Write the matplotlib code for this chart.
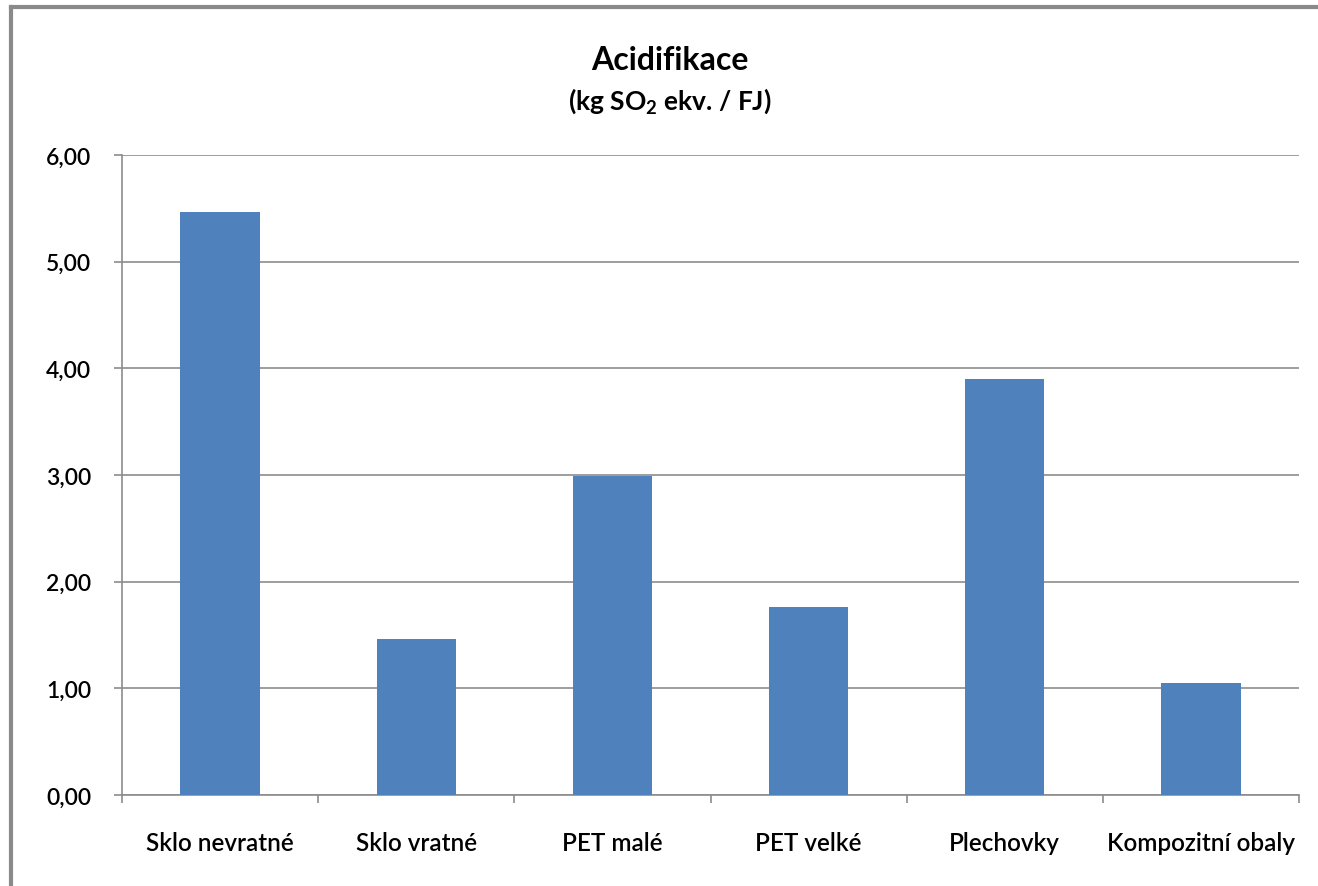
import matplotlib
matplotlib.use("Agg")
from matplotlib import pyplot as plt
import numpy as np

categories = ["Sklo nevratné", "Sklo vratné", "PET malé", "PET velké", "Plechovky", "Kompozitní obaly"]
values = [5.47, 1.46, 2.99, 1.76, 3.90, 1.05]
yticks = [0, 1, 2, 3, 4, 5, 6]

plt.rcParams["font.family"] = ["Lato", "DejaVu Sans"]

fig = plt.figure(figsize=(13.18, 8.87), dpi=100)
ax = fig.add_axes([122/1318, 1 - 796/887, (1299-122)/1318, (796-156)/887])

x = np.arange(len(categories))
ax.bar(x, values, width=0.405, color="#4F81BD", zorder=3)

ax.set_xlim(-0.5, len(categories) - 0.5)
ax.set_ylim(0, 6)
ax.set_yticks(yticks)
ylabels = [f"{v:.2f}".replace(".", ",") for v in yticks]
ax.set_yticklabels(ylabels, fontsize=16.5, fontweight="semibold")
ax.yaxis.grid(True, color="#8c8c8c", linewidth=1.2, zorder=0)

# category labels centered, ticks at the boundaries
ax.set_xticks(x)
ax.set_xticklabels(categories, fontsize=17.5, fontweight="semibold")
ax.tick_params(axis="x", length=0, pad=26)
ax.set_xticks(np.arange(-0.5, len(categories)), minor=True)
ax.tick_params(axis="x", which="minor", length=6, color="#8c8c8c", width=1.2)
ax.tick_params(axis="y", length=6, color="#8c8c8c", width=1.2, pad=16)

for s in ["top", "right"]:
    ax.spines[s].set_visible(False)
for s in ["left", "bottom"]:
    ax.spines[s].set_color("#8c8c8c")
    ax.spines[s].set_linewidth(1.2)

fig.text(670/1318, 1 - 60/887, "Acidifikace", ha="center", va="center", fontsize=23, fontweight="bold")
fig.text(670/1318, 1 - 101/887, r"(kg SO$_\mathregular{2}$ ekv. / FJ)", ha="center", va="center",
         fontsize=19, fontweight="bold")

# chart area frame (left and top edges visible)
fig.add_artist(plt.Line2D([11/1318, 11/1318], [0, 1 - 8/887], color="#8a8a8a", linewidth=3, transform=fig.transFigure))
fig.add_artist(plt.Line2D([11/1318, 1], [1 - 8/887, 1 - 8/887], color="#8a8a8a", linewidth=3, transform=fig.transFigure))

fig.savefig("out.png", dpi=100)
